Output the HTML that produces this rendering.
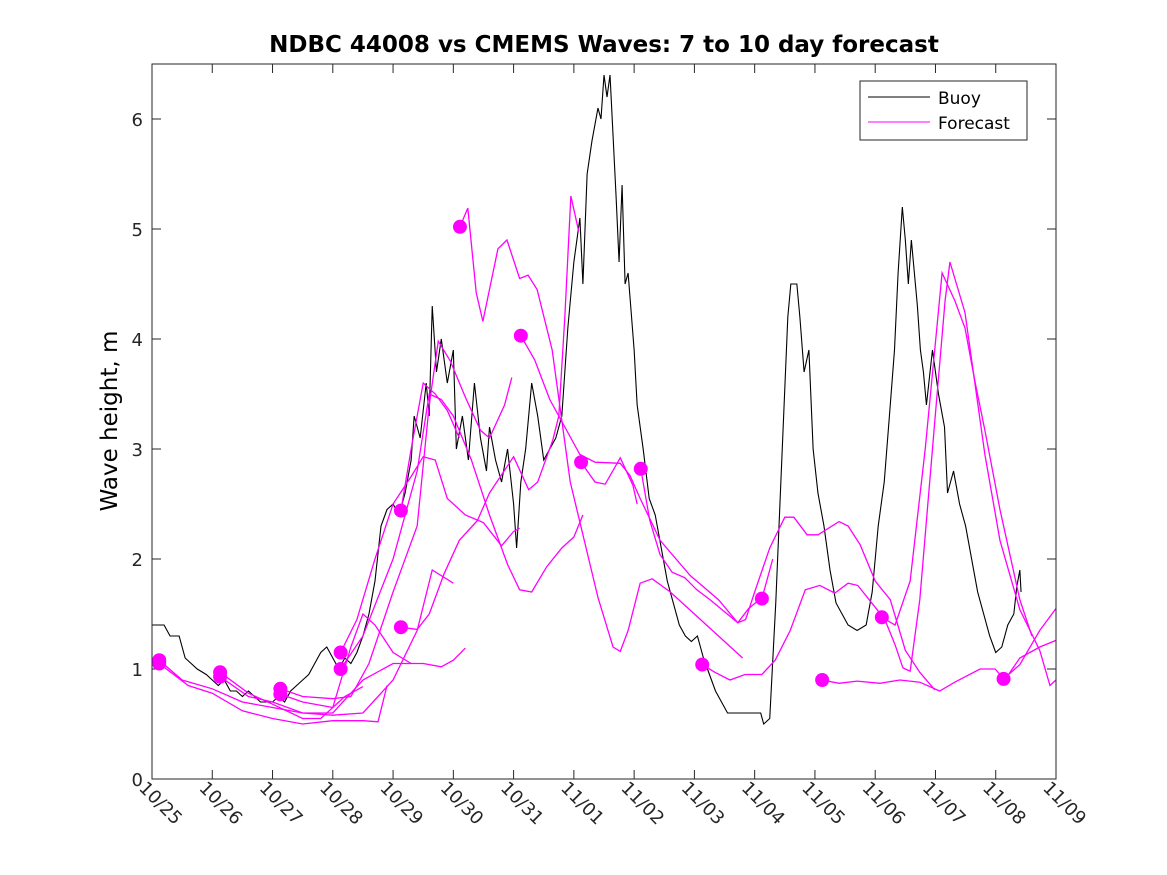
<!DOCTYPE html>
<html><head><meta charset="utf-8"><style>
body{margin:0;background:#fff;}
svg{display:block;font-family:"DejaVu Sans","Liberation Sans",sans-serif;}
</style></head><body>
<svg id="chart" width="1167" height="875" xmlns="http://www.w3.org/2000/svg">
<rect width="1167" height="875" fill="#fff"/>
<text x="604" y="52" text-anchor="middle" font-size="23" font-weight="bold">NDBC 44008 vs CMEMS Waves: 7 to 10 day forecast</text>
<text transform="translate(117,421) rotate(-90)" text-anchor="middle" font-size="23">Wave height, m</text>
<g id="plot"></g>
<rect x="152" y="64" width="904" height="715" fill="none" stroke="#262626" stroke-width="1"/>
<g>
<rect x="860" y="81" width="167" height="59" fill="#fff" stroke="#262626"/>
<line x1="868" y1="97" x2="930" y2="97" stroke="#000" stroke-width="1"/>
<text x="938" y="104" font-size="17">Buoy</text>
<line x1="868" y1="122" x2="930" y2="122" stroke="#f0f" stroke-width="1"/>
<text x="938" y="129" font-size="17">Forecast</text>
</g>
</svg>
<script>
const xTickLabels=["10/25","10/26","10/27","10/28","10/29","10/30","10/31","11/01","11/02","11/03","11/04","11/05","11/06","11/07","11/08","11/09"];
const yTicks=[0,1,2,3,4,5,6];
const buoyT=[0,0.2,0.3,0.45,0.55,0.65,0.75,0.9,1.0,1.1,1.2,1.3,1.4,1.5,1.6,1.7,1.8,2.0,2.1,2.2,2.3,2.4,2.5,2.6,2.7,2.8,2.9,3.0,3.1,3.2,3.3,3.4,3.5,3.6,3.7,3.8,3.9,4.0,4.1,4.2,4.3,4.35,4.45,4.55,4.6,4.65,4.72,4.8,4.9,5.0,5.05,5.15,5.25,5.35,5.45,5.55,5.6,5.7,5.8,5.9,6.0,6.05,6.12,6.2,6.3,6.4,6.5,6.6,6.7,6.8,6.9,7.0,7.1,7.15,7.22,7.3,7.4,7.45,7.5,7.55,7.6,7.7,7.75,7.8,7.85,7.9,8.0,8.05,8.15,8.25,8.35,8.45,8.55,8.65,8.75,8.85,8.95,9.05,9.15,9.25,9.35,9.45,9.55,9.7,9.9,10.1,10.15,10.25,10.35,10.45,10.55,10.6,10.7,10.75,10.82,10.9,10.97,11.05,11.15,11.25,11.35,11.45,11.55,11.7,11.85,11.95,12.05,12.15,12.25,12.32,12.38,12.45,12.5,12.55,12.6,12.7,12.75,12.8,12.85,12.95,13.05,13.15,13.2,13.3,13.4,13.5,13.6,13.7,13.8,13.9,14.0,14.1,14.2,14.3,14.35,14.4,14.42];
const buoyV=[1.4,1.4,1.3,1.3,1.1,1.05,1.0,0.95,0.9,0.85,0.9,0.8,0.8,0.75,0.8,0.75,0.7,0.7,0.75,0.7,0.8,0.85,0.9,0.95,1.05,1.15,1.2,1.1,1.0,1.1,1.05,1.15,1.3,1.5,1.8,2.3,2.45,2.5,2.4,2.6,2.9,3.3,3.1,3.6,3.3,4.3,3.7,4.0,3.6,3.9,3.0,3.3,2.9,3.6,3.1,2.8,3.2,2.9,2.7,3.0,2.5,2.1,2.7,3.0,3.6,3.3,2.9,3.0,3.1,3.3,4.1,4.7,5.1,4.5,5.5,5.8,6.1,6.0,6.4,6.2,6.4,5.3,4.7,5.4,4.5,4.6,3.9,3.4,3.0,2.55,2.4,2.1,1.8,1.6,1.4,1.3,1.25,1.3,1.1,0.95,0.8,0.7,0.6,0.6,0.6,0.6,0.5,0.55,1.6,2.9,4.2,4.5,4.5,4.2,3.7,3.9,3.0,2.6,2.3,1.9,1.6,1.5,1.4,1.35,1.4,1.7,2.3,2.7,3.4,3.9,4.6,5.2,4.9,4.5,4.9,4.3,3.9,3.7,3.4,3.9,3.5,3.2,2.6,2.8,2.5,2.3,2.0,1.7,1.5,1.3,1.15,1.2,1.4,1.5,1.75,1.9,1.7];
const fcRuns=[
[[0.12,1.08],[0.5,0.9],[1,0.82],[1.5,0.7],[2,0.65],[2.5,0.6],[3,0.58],[3.5,0.6],[4,0.9],[4.4,1.35],[4.65,1.9],[5.0,1.78]],
[[0.12,1.05],[0.6,0.85],[1,0.78],[1.5,0.62],[2,0.55],[2.5,0.5],[3,0.53],[3.5,0.53],[3.75,0.52],[3.9,0.85]],
[[1.13,0.97],[1.6,0.78],[2.0,0.68],[2.5,0.55],[2.8,0.55],[3.2,0.75],[3.5,0.84]],
[[1.13,0.93],[1.6,0.75],[2.0,0.7],[2.5,0.6],[3.0,0.6],[3.5,0.9],[4.0,1.05],[4.5,1.05],[4.8,1.02],[5.0,1.08],[5.2,1.19]],
[[2.13,0.82],[2.5,0.75],[3.0,0.73],[3.3,0.75],[3.6,1.05],[4.0,1.7],[4.4,2.3],[4.6,3.4],[4.75,3.98],[4.95,3.8],[5.2,3.47],[5.45,3.17],[5.6,3.1],[5.85,3.4],[5.97,3.65]],
[[2.13,0.77],[2.5,0.7],[3.0,0.65],[3.3,1.2],[3.5,1.5],[3.7,1.4],[4.0,1.15],[4.3,1.05]],
[[3.13,1.15],[3.4,1.45],[3.7,2.0],[4.0,2.5],[4.3,2.75],[4.5,2.93],[4.7,2.9],[4.9,2.55],[5.2,2.4],[5.5,2.33],[5.8,2.12],[6.0,2.25],[6.1,2.28]],
[[3.13,1.0],[3.5,1.3],[4.0,2.0],[4.4,2.8],[4.6,3.5],[4.8,3.45],[5.0,3.3],[5.3,2.9],[5.6,2.4],[5.9,1.95],[6.1,1.72],[6.3,1.7],[6.55,1.93],[6.8,2.1],[7.0,2.2],[7.15,2.4]],
[[4.13,2.44],[4.3,3.0],[4.5,3.6],[4.7,3.5],[4.9,3.35],[5.1,3.1]],
[[4.13,1.38],[4.4,1.36],[4.6,1.5],[4.85,1.87],[5.1,2.17],[5.4,2.35],[5.6,2.6],[6.0,2.93],[6.25,2.63],[6.4,2.7],[6.65,3.08],[6.75,3.3],[6.85,4.2],[6.95,5.3],[7.08,4.98]],
[[5.11,5.02],[5.24,5.19],[5.38,4.42],[5.49,4.16],[5.74,4.82],[5.89,4.9],[6.1,4.55],[6.24,4.58],[6.39,4.45],[6.64,3.9],[6.94,2.7],[7.4,1.65],[7.65,1.2],[7.77,1.16],[7.9,1.35],[8.1,1.78],[8.3,1.82],[8.6,1.7],[9.1,1.45],[9.6,1.2],[9.8,1.1]],
[[6.12,4.03],[6.35,3.81],[6.6,3.45],[6.85,3.2],[7.1,2.95],[7.35,2.88],[7.77,2.87],[7.93,2.76],[8.1,2.55],[8.43,2.17],[8.93,1.85],[9.4,1.63],[9.72,1.42],[9.9,1.55],[10.1,1.64]],
[[7.12,2.88],[7.35,2.7],[7.52,2.68],[7.77,2.92],[7.98,2.67],[8.05,2.5]],
[[8.11,2.82],[8.26,2.35],[8.43,2.04],[8.63,1.88],[8.84,1.83],[9.04,1.72],[9.26,1.63],[9.5,1.52],[9.72,1.42],[9.85,1.45],[10.0,1.7],[10.25,2.1],[10.5,2.38],[10.65,2.38],[10.87,2.22],[11.05,2.22],[11.4,2.34],[11.55,2.3],[11.75,2.13],[12.0,1.8],[12.25,1.63],[12.5,1.17],[12.74,0.97],[12.99,0.81]],
[[9.13,1.04],[9.34,0.97],[9.59,0.9],[9.84,0.95],[10.12,0.95],[10.34,1.08],[10.59,1.35],[10.84,1.72],[11.08,1.76],[11.33,1.69],[11.55,1.78],[11.71,1.76],[11.9,1.63],[12.16,1.45],[12.33,1.22],[12.46,1.01],[12.58,0.98],[12.74,1.63],[12.99,3.26],[13.16,4.35],[13.24,4.7],[13.49,4.24],[13.82,2.95],[14.07,2.17],[14.4,1.54],[14.73,1.17],[14.9,0.85],[15,0.9]],
[[10.12,1.64],[10.3,2.0]],
[[11.12,0.9],[11.4,0.87],[11.7,0.89],[12.08,0.87],[12.41,0.9],[12.74,0.88],[13.07,0.8],[13.32,0.88],[13.74,1.0],[13.99,1.0],[14.15,0.9],[14.4,1.1],[14.73,1.2],[15,1.26]],
[[12.11,1.47],[12.33,1.4],[12.58,1.8],[12.83,3.0],[13.11,4.6],[13.32,4.35],[13.49,4.1],[13.66,3.6],[13.82,3.17],[14.07,2.45],[14.4,1.63],[14.6,1.3]],
[[14.13,0.91],[14.4,1.04],[14.73,1.35],[15,1.55]]
];
const X0=152,X1=1056,Y0=779,Y1=64,DMAX=15,VMAX=6.5;
const sx=d=>X0+(X1-X0)*d/DMAX, sy=v=>Y0-(Y0-Y1)*v/VMAX;
const NS="http://www.w3.org/2000/svg";
const plot=document.getElementById('plot');
function mk(tag,attrs){const e=document.createElementNS(NS,tag);for(const k in attrs)e.setAttribute(k,attrs[k]);return e;}
yTicks.forEach(v=>{
  const t=mk('line',{x1:X0,x2:X0+9,y1:sy(v),y2:sy(v),stroke:'#262626'});
  
  
  plot.appendChild(t);
  const t2=mk('line',{x1:X1-9,x2:X1,y1:sy(v),y2:sy(v),stroke:'#262626'});
  
  
  plot.appendChild(t2);
  const l=mk('text',{x:X0-9,y:sy(v)+7,'text-anchor':'end','font-size':18,fill:'#262626'});
  l.textContent=v;
  
  
  plot.appendChild(l);
});
xTickLabels.forEach((s,i)=>{
  const x=sx(i);
  const t=mk('line',{x1:x,x2:x,y1:Y0,y2:Y0-9,stroke:'#262626'});
  
  
  plot.appendChild(t);
  const t2=mk('line',{x1:x,x2:x,y1:Y1,y2:Y1+9,stroke:'#262626'});
  
  
  plot.appendChild(t2);
  const l=mk('text',{transform:`translate(${x-14},${Y0+10}) rotate(45)`,'font-size':18,fill:'#262626'});
  l.textContent=s;
  
  
  plot.appendChild(l);
});
const bp=mk('polyline',{points:buoyT.map((t,i)=>sx(t)+','+sy(buoyV[i])).join(' '),fill:'none',stroke:'#000','stroke-width':1.1});


plot.appendChild(bp);
fcRuns.forEach(run=>{
  const p=mk('polyline',{points:run.map(q=>sx(q[0])+','+sy(q[1])).join(' '),fill:'none',stroke:'#f0f','stroke-width':1.3});
  
  
  plot.appendChild(p);
});
fcRuns.forEach(run=>{
  const c=mk('circle',{cx:sx(run[0][0]),cy:sy(run[0][1]),r:7,fill:'#f0f'});
  
  
  plot.appendChild(c);
});
</script>
</body></html>
